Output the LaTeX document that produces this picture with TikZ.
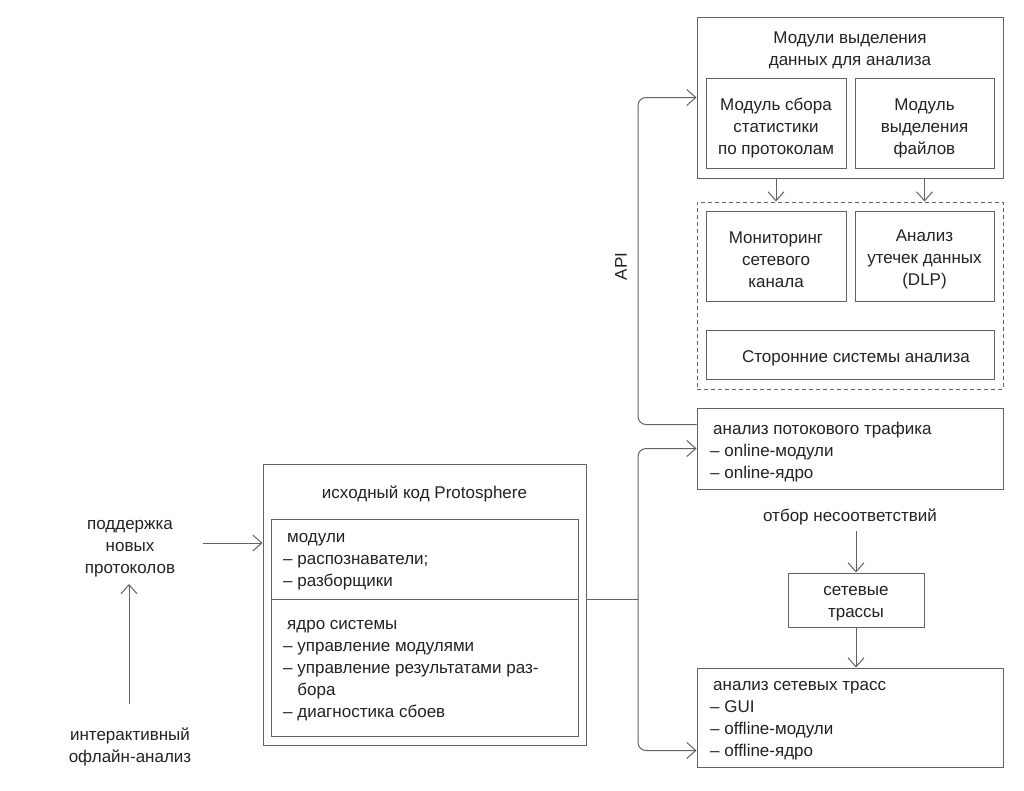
\documentclass[tikz,border=0pt]{standalone}
\usepackage{fontspec}
\setmainfont{Liberation Sans}
\usetikzlibrary{arrows.meta,calc}
\definecolor{lncol}{HTML}{626262}
\definecolor{txcol}{HTML}{222222}
\begin{document}
\begin{tikzpicture}[x=1pt,y=-1pt,
  font=\fontsize{17}{22}\selectfont, text=txcol,
  box/.style={draw=lncol, line width=1pt, inner sep=0pt},
  conn/.style={draw=lncol, line width=1pt},
  arr/.style={conn, -{Straight Barb[length=9pt,width=16pt,line width=1pt]}},
  lst/.style={anchor=west, align=left, inner sep=0pt, yshift=-3.5pt},
  lbl/.style={align=center, inner sep=0pt, yshift=-3.5pt}]
\useasboundingbox (0,0) rectangle (1024,790);

% top box
\node[box, minimum width=306, minimum height=161] (top) at (850,97.5) {};
\node[lbl] (toptitle) at (850,46.5) {Модули выделения\\данных для анализа};
\node[box, minimum width=140, minimum height=90] (stat) at (776,123) {};
\node[lbl] (stattxt) at ($(stat)+(0,2)$) {Модуль сбора\\статистики\\по протоколам};
\node[box, minimum width=139, minimum height=90] (files) at (924.5,123) {};
\node[lbl] (filestxt) at ($(files)+(0,2)$) {Модуль\\выделения\\файлов};

% dashed group
\node[box, dash pattern=on 4pt off 3pt, minimum width=306, minimum height=187] (grp) at (850,295.5) {};
\node[box, minimum width=140, minimum height=90] (mon) at (776,256) {};
\node[lbl] (montxt) at (mon) {Мониторинг\\сетевого\\канала};
\node[box, minimum width=139, minimum height=90] (dlp) at (924.5,256) {};
\node[lbl] (dlptxt) at (dlp) {Анализ\\утечек данных\\(DLP)};
\node[box, minimum width=288, minimum height=49] (ext) at (850,354.5) {};
\node[lbl] (exttxt) at ($(ext)+(6,0)$) {Сторонние системы анализа};

\draw[arr] (stat.south |- top.south) -- (stat.south |- grp.north);
\draw[arr] (files.south |- top.south) -- (files.south |- grp.north);

% stream analysis
\node[box, minimum width=306, minimum height=81] (potok) at (850,448.5) {};
\node[lst] (potoktxt) at (710,449) {\hspace*{3pt}анализ потокового трафика\\– online-модули\\– online-ядро};

% API link
\node[lbl, rotate=90] (api) at (621,263) {API};
\coordinate (papi) at ($(potok.north west)+(0,17)$);
\coordinate (apix) at (638,300);
\draw[arr, rounded corners=8pt] (papi) -| (apix) |- (top.west);

% mismatch selection
\node[lbl] (otb) at (850,513) {отбор несоответствий};
\node[box, minimum width=136, minimum height=54] (traces) at (856,600) {};
\node[lbl] (tracestxt) at (traces) {сетевые\\трассы};
\coordinate (otbA) at (856,531);
\draw[arr] (otbA) -- (traces.north);

% trace analysis
\node[box, minimum width=306, minimum height=99] (trass) at (850,717.5) {};
\node[lst] (trasstxt) at (710,717) {\hspace*{3pt}анализ сетевых трасс\\– GUI\\– offline-модули\\– offline-ядро};
\draw[arr] (traces.south) -- (traces.south |- trass.north);

% Protosphere source
\node[box, minimum width=323, minimum height=281] (proto) at (424.5,604.5) {};
\node[lbl] (prototitle) at (424.5,490) {исходный код Protosphere};
\node[box, minimum width=307, minimum height=217] (protoin) at (424.5,627.5) {};
\coordinate (divy) at (0,599);
\draw[conn] (protoin.west |- divy) -- (protoin.east |- divy);
\node[lst] (mods) at (283,558) {\hspace*{4pt}модули\\– распознаватели;\\– разборщики};
\node[lst] (core) at (283,667) {\hspace*{4pt}ядро системы\\– управление модулями\\– управление результатами раз-\\\phantom{– }бора\\– диагностика сбоев};

% connectors from Protosphere
\coordinate (jn) at (638,599);
\draw[conn] (proto.east |- jn) -- (jn);
\draw[arr, rounded corners=8pt] (jn) |- (potok.west);
\draw[arr, rounded corners=8pt] (jn) |- ($(trass.south west)+(0,-17)$);

% left side
\node[lbl] (sup) at (130,545) {поддержка\\новых\\протоколов};
\node[lbl] (inter) at (130,743.5) {интерактивный\\офлайн-анализ};
\coordinate (supR) at (203,543);
\draw[arr] (supR) -- (supR -| proto.west);
\coordinate (interT) at (129,704);
\coordinate (supB) at (129,584);
\draw[arr] (interT) -- (supB);
\end{tikzpicture}
\end{document}
